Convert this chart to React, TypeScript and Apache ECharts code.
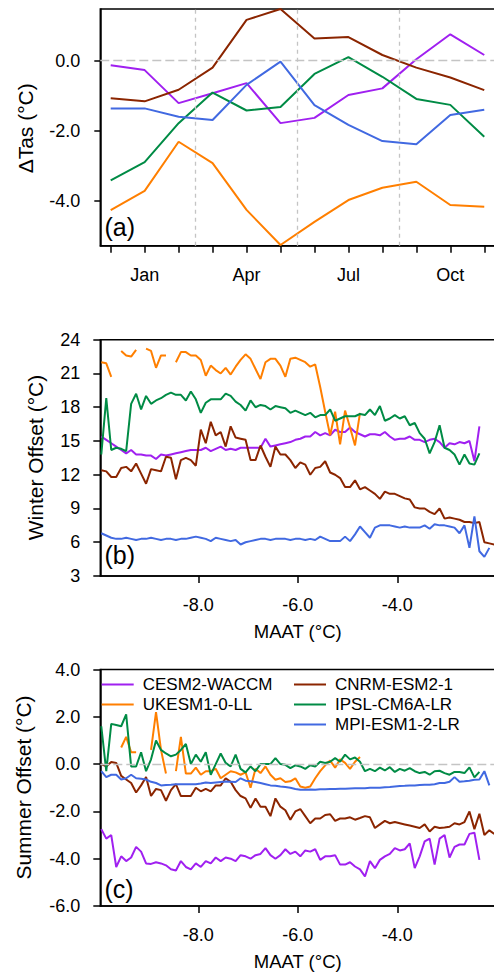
import React, { useEffect, useRef } from 'react';
import * as echarts from 'echarts';

const FONT = '"Liberation Sans", Arial, Helvetica, sans-serif';

// ---------- Panel (a): monthly ΔTas ----------
const MONTHS = ['Dec', 'Jan', 'Feb', 'Mar', 'Apr', 'May', 'Jun', 'Jul', 'Aug', 'Sep', 'Oct', 'Nov'];
const MONTH_IDX = [0, 1, 2, 3, 4, 5, 6, 7, 8, 9, 10, 11];
const MONTH_LABEL_IDX = [1, 4, 7, 10];
const SEASON_BOUNDS = [2.5, 5.5, 8.5];
const TAS_TICKS = [-4, -2, 0];

const tasCESM = [-0.13, -0.27, -1.21, -0.93, -0.64, -1.78, -1.63, -0.98, -0.79, 0.04, 0.75, 0.16];
const tasCNRM = [-1.07, -1.16, -0.83, -0.2, 1.16, 1.47, 0.63, 0.67, 0.16, -0.2, -0.48, -0.84];
const tasUKESM = [-4.26, -3.71, -2.31, -2.92, -4.25, -5.25, -4.59, -3.97, -3.62, -3.45, -4.11, -4.16];
const tasIPSL = [-3.41, -2.89, -1.78, -0.91, -1.42, -1.32, -0.38, 0.1, -0.46, -1.09, -1.26, -2.17];
const tasMPI = [-1.36, -1.36, -1.6, -1.69, -0.69, -0.03, -1.27, -1.83, -2.29, -2.38, -1.55, -1.4];

// ---------- Panels (b), (c): offsets vs MAAT bins ----------
const MAAT = [
  -9.95, -9.85, -9.75, -9.65, -9.55, -9.45, -9.35, -9.25, -9.15, -9.05,
  -8.95, -8.85, -8.75, -8.65, -8.55, -8.45, -8.35, -8.25, -8.15, -8.05,
  -7.95, -7.85, -7.75, -7.65, -7.55, -7.45, -7.35, -7.25, -7.15, -7.05,
  -6.95, -6.85, -6.75, -6.65, -6.55, -6.45, -6.35, -6.25, -6.15, -6.05,
  -5.95, -5.85, -5.75, -5.65, -5.55, -5.45, -5.35, -5.25, -5.15, -5.05,
  -4.95, -4.85, -4.75, -4.65, -4.55, -4.45, -4.35, -4.25, -4.15, -4.05,
  -3.95, -3.85, -3.75, -3.65, -3.55, -3.45, -3.35, -3.25, -3.15, -3.05,
  -2.95, -2.85, -2.75, -2.65, -2.55, -2.45, -2.35, -2.25, -2.15, -2.05,
];
const MAAT_TICKS = [-8, -6, -4];

const winterCESM = [
  15.4, 15.1, 14.8, 14.5, 14.2, 13.9, 14.2, 13.8, 13.8, 13.7,
  13.7, 13.4, 13.8, 13.7, 13.8, 13.9, 14.0, 14.1, 14.2, 14.2,
  14.2, 14.4, 14.1, 14.3, 14.5, 14.2, 14.3, 14.2, 14.4, 14.4,
  14.4, 14.4, 14.4, 15.2, 14.5, 14.6, 14.7, 14.8, 14.9, 15.1,
  15.2, 15.4, 15.4, 15.8, 15.5, 15.7, 15.5, 16.0, 15.8, 15.8,
  16.2, 15.8, 15.6, 15.4, 15.6, 15.6, 15.5, 15.8, 15.4, 15.1,
  15.2, 15.2, 15.4, 15.1, 15.1, 14.9, 15.1, 15.2, 14.9, 14.4,
  14.8, 14.7, 14.9, 14.8, 15.0, 13.2, 16.3, null, null, null,
];
const winterCNRM = [
  12.4, 12.3, 11.8, 11.8, 12.6, 12.7, 12.3, 13.0, 12.1, 11.2,
  12.5, 12.4, 12.3, 13.6, 13.5, 11.6, 13.3, 13.5, 13.3, 12.8,
  16.0, 14.8, 16.7, 15.5, 15.8, 14.5, 16.3, 15.3, 15.2, 15.1,
  13.3, 13.3, 14.6, 13.6, 12.7, 14.5, 13.8, 13.8, 13.3, 12.6,
  13.1, 12.9, 12.0, 12.6, 12.7, 13.2, 12.2, 12.0, 11.7, 10.9,
  10.9, 11.5, 10.7, 10.9, 10.6, 10.3, 9.85, 10.5, 10.3, 10.3,
  10.1, 9.9, 9.8, 9.1, 9.0, 9.0, 8.7, 8.5, 9.0, 8.1,
  8.2, 8.1, 8.0, 7.8, 7.8, 7.7, 7.8, 6.0, 5.9, 5.8,
];
const winterUKESM = [
  22.0, 21.9, 20.7, null, 23.0, 22.6, 22.5, 23.1, null, 23.2,
  23.0, 21.5, 22.6, 22.6, null, 22.0, 22.9, 22.9, 22.6, 22.6,
  22.2, 20.8, 21.7, 21.3, 21.0, 21.5, 20.9, 21.6, 22.2, 22.7,
  22.3, 21.4, 20.5, 22.0, 22.3, 22.3, 21.7, 20.7, 22.3, 22.4,
  22.2, 22.0, 21.6, 21.8, 19.8, 17.6, 15.5, 17.6, 14.7, 17.7,
  16.2, 14.6, 17.5, null, null, null, null, null, null, null,
  null, null, null, null, null, null, null, null, null, null,
  null, null, null, null, null, null, null, null, null, null,
];
const winterIPSL = [
  13.8, 18.8, 14.2, 14.4, 14.3, 14.1, 18.3, 19.2, 17.8, 19.0,
  18.3, 18.6, 18.8, 19.1, 19.3, 19.1, 19.1, 18.6, 19.4, 18.7,
  17.5, 18.4, 18.7, 18.7, 18.7, 19.2, 19.0, 18.5, 18.2, 17.7,
  18.6, 18.0, 18.2, 18.1, 17.8, 18.1, 18.0, 17.9, 17.5, 17.7,
  17.5, 17.3, 17.5, 17.1, 17.3, 17.3, 17.8, 16.8, 17.0, 17.2,
  17.2, 17.2, 17.4, 17.3, 17.8, 17.3, 18.1, 16.8, 17.0, 17.3,
  17.0, 17.2, 16.4, 16.6, 15.7, 15.2, 13.9, 14.9, 16.4, 14.4,
  14.2, 13.8, 12.9, 13.8, 13.0, 12.9, 13.9, null, null, null,
];
const winterMPI = [
  6.8, 6.6, 6.4, 6.3, 6.3, 6.4, 6.3, 6.2, 6.3, 6.3,
  6.4, 6.3, 6.2, 6.3, 6.3, 6.2, 6.3, 6.3, 6.4, 6.5,
  6.4, 6.3, 6.1, 6.4, 6.3, 6.2, 6.1, 6.2, 5.8, 6.0,
  6.1, 6.2, 6.3, 6.3, 6.2, 6.3, 6.3, 6.3, 6.2, 6.3,
  6.3, 6.2, 6.3, 6.2, 6.5, 6.3, 6.1, 6.1, 6.1, 6.5,
  6.1, 6.7, 7.4, 6.9, 6.4, 7.3, 7.5, 7.5, 7.5, 7.4,
  7.3, 7.4, 7.3, 7.3, 7.3, 7.5, 7.2, 7.6, 7.5, 7.5,
  7.4, 7.3, 6.8, 7.5, 5.5, 8.3, 5.2, 4.7, 5.5, null,
];

const summerCESM = [
  -2.75, -3.15, -3.0, -4.35, -3.9, -4.1, -3.95, -3.5, -3.7, -4.2,
  -4.22, -4.15, -4.2, -4.28, -4.45, -4.5, -4.1, -4.35, -4.45, -4.2,
  -4.35, -4.1, -4.2, -3.95, -4.1, -3.95, -4.0, -4.1, -3.85, -3.9,
  -4.0, -3.85, -3.8, -3.55, -3.85, -4.0, -3.85, -3.6, -3.8, -3.7,
  -3.9, -3.65, -3.7, -3.6, -4.05, -3.9, -3.9, -3.85, -4.25, -4.25,
  -4.15, -4.33, -4.45, -4.75, -4.1, -4.4, -4.05, -3.9, -3.8, -3.55,
  -3.65, -3.6, -3.35, -4.4, -3.9, -3.27, -3.15, -4.25, -3.15, -3.0,
  -3.95, -3.5, -3.4, -3.4, -2.95, -2.9, -4.05, null, null, null,
];
const summerCNRM = [
  0.0, -0.1, 0.09, 0.05, -0.5, -0.65, -0.8, -1.2, -0.9, -0.55,
  -1.35, -1.05, -1.1, -1.55, -1.1, -0.85, -1.35, -1.35, -1.35, -1.0,
  -1.15, -1.05, -1.15, -0.9, -0.9, -0.6, -0.75, -1.1, -1.35, -1.45,
  -1.85, -1.45, -1.8, -1.8, -2.2, -1.45, -1.8, -1.95, -2.35, -2.0,
  -1.9, -2.2, -2.5, -2.3, -2.3, -2.15, -2.12, -2.4, -2.3, -2.3,
  -2.25, -2.35, -2.28, -2.2, -2.25, -2.7, -2.55, -2.4, -2.5, -2.45,
  -2.5, -2.55, -2.6, -2.65, -2.7, -2.55, -2.85, -2.65, -2.7, -2.68,
  -2.65, -2.5, -2.55, -2.45, -2.0, -2.75, -2.1, -3.0, -2.8, -2.95,
];
const summerUKESM = [
  null, null, null, null, 0.7, 1.15, 0.5, 0.5, null, null,
  0.6, 2.2, 0.6, -0.4, null, -0.3, 1.15, -0.4, -0.4, -0.15,
  -0.45, -0.3, -0.3, -0.2, -0.6, -0.45, -0.3, -0.35, -0.45, -0.35,
  -1.0, -0.2, -0.38, -0.1, -0.45, -0.66, -0.6, -0.76, -0.73, -0.6,
  -0.95, -1.0, -0.95, -0.6, -0.3, -0.05, 0.15, -0.15, 0.2, 0.05,
  -0.2, 0.1, 0.3, null, null, null, null, null, null, null,
  null, null, null, null, null, null, null, null, null, null,
  null, null, null, null, null, null, null, null, null, null,
];
const summerIPSL = [
  1.6, -0.3, 1.7, 1.65, 1.6, 2.1, -0.1, -0.1, 0.5, -0.3,
  0.2, 1.0, 0.6, 0.45, 0.33, 0.4, 0.6, 0.85, 0.0, 0.4,
  0.1, 0.5, -0.45, 0.0, 0.45, 0.05, -0.1, 0.4, -0.2, -0.35,
  -0.1, -0.3, 0.0, 0.0, 0.0, 0.25, 0.0, -0.03, -0.17, -0.05,
  -0.1, -0.2, -0.05, -0.1, 0.1, 0.05, 0.1, 0.25, 0.1, 0.4,
  0.2, 0.28, 0.1, -0.3, -0.2, -0.3, -0.15, -0.27, -0.13, -0.33,
  -0.2, -0.28, -0.17, -0.3, -0.38, -0.33, -0.45, -0.3, -0.28, -0.38,
  -0.45, -0.33, -0.33, -0.38, -0.14, -0.56, -0.33, null, null, null,
];
const summerMPI = [
  -0.3, -0.55, -0.45, -0.45, -0.65, -0.6, -0.45, -0.6, -0.62, -0.65,
  -0.75, -0.8, -0.9, -0.88, -0.87, -0.85, -0.85, -0.85, -0.85, -0.85,
  -0.82, -0.78, -0.8, -0.78, -0.76, -0.74, -0.75, -0.76, -0.6, -0.7,
  -0.73, -0.76, -0.8, -0.85, -0.9, -0.92, -0.95, -0.97, -1.0, -1.05,
  -1.08, -1.08, -1.07, -1.08, -1.06, -1.06, -1.05, -1.05, -1.04, -1.04,
  -1.03, -1.02, -1.02, -1.02, -1.0, -1.0, -1.0, -0.98, -0.97, -0.95,
  -0.93, -0.92, -0.9, -0.9, -0.88, -0.87, -0.87, -0.85, -0.8, -0.8,
  -0.75, -0.55, -0.75, -0.73, -0.7, -0.66, -0.65, -0.3, -0.9, null,
];

const MODELS = [
  { name: 'CESM2-WACCM', color: '#a020f0', tas: tasCESM, winter: winterCESM, summer: summerCESM },
  { name: 'CNRM-ESM2-1', color: '#8b2500', tas: tasCNRM, winter: winterCNRM, summer: summerCNRM },
  { name: 'UKESM1-0-LL', color: '#ff7f00', tas: tasUKESM, winter: winterUKESM, summer: summerUKESM },
  { name: 'IPSL-CM6A-LR', color: '#008b45', tas: tasIPSL, winter: winterIPSL, summer: summerIPSL },
  { name: 'MPI-ESM1-2-LR', color: '#4169e1', tas: tasMPI, winter: winterMPI, summer: summerMPI },
];

const LEGEND_LEFT = ['CESM2-WACCM', 'UKESM1-0-LL'];
const LEGEND_RIGHT = ['CNRM-ESM2-1', 'IPSL-CM6A-LR', 'MPI-ESM1-2-LR'];

function toPairs(xs: number[], ys: (number | null)[]) {
  return xs.map((x, i) => [x, ys[i] === null || ys[i] === undefined ? '-' : ys[i]]);
}

function buildOption() {
  const GL = 100.3;
  const GW = 404; // right frame edge falls outside the 494px page, as in the reference
  const axisLineStyle = { color: '#000', width: 1.5 };
  const tickLabel = { color: '#000', fontSize: 18, fontFamily: FONT };

  const grids = [
    { left: GL, top: 9, width: GW, height: 236.7 },
    { left: GL, top: 339.7, width: GW, height: 236.3 },
    { left: GL, top: 669.5, width: GW, height: 236.5 },
  ].map((g) => ({
    ...g, show: true, borderColor: '#000', borderWidth: 1.5, backgroundColor: 'transparent',
    containLabel: false, outerBoundsMode: 'none',
  }));

  const monthPx = 33.96;
  const aMin = -10.4 / monthPx;
  const aMax = aMin + GW / monthPx;
  const mPx = 49.75;
  const bMin = -9.97;
  const bMax = bMin + GW / mPx;

  const xAxis: any[] = [
    {
      type: 'value', gridIndex: 0, min: aMin, max: aMax,
      axisLine: { show: true, onZero: false, lineStyle: axisLineStyle },
      axisTick: { show: true, customValues: MONTH_IDX, length: 7, lineStyle: axisLineStyle },
      axisLabel: { ...tickLabel, customValues: MONTH_LABEL_IDX, margin: 20, formatter: (v: number) => MONTHS[Math.round(v)] },
      splitLine: { show: false },
    },
    ...[1, 2].map((gi) => ({
      type: 'value', gridIndex: gi, min: bMin, max: bMax,
      axisLine: { show: true, onZero: false, lineStyle: axisLineStyle },
      axisTick: { show: true, customValues: MAAT_TICKS, length: 7, lineStyle: axisLineStyle },
      axisLabel: { ...tickLabel, customValues: MAAT_TICKS, margin: 20, formatter: (v: number) => v.toFixed(1) },
      splitLine: { show: false },
    })),
  ];

  const yAxis: any[] = [
    {
      type: 'value', gridIndex: 0, min: -5.27, max: 1.47,
      axisLine: { show: true, onZero: false, lineStyle: axisLineStyle },
      axisTick: { show: true, customValues: TAS_TICKS, length: 6, lineStyle: axisLineStyle },
      axisLabel: { ...tickLabel, customValues: TAS_TICKS, margin: 20, formatter: (v: number) => v.toFixed(1) },
      splitLine: { show: false },
    },
    {
      type: 'value', gridIndex: 1, min: 3, max: 24, interval: 3,
      axisLine: { show: true, onZero: false, lineStyle: axisLineStyle },
      axisTick: { show: true, length: 7, lineStyle: axisLineStyle },
      axisLabel: { ...tickLabel, margin: 20, formatter: (v: number) => String(v) },
      splitLine: { show: false },
    },
    {
      type: 'value', gridIndex: 2, min: -6, max: 4, interval: 2,
      axisLine: { show: true, onZero: false, lineStyle: axisLineStyle },
      axisTick: { show: true, length: 7, lineStyle: axisLineStyle },
      axisLabel: { ...tickLabel, margin: 20, formatter: (v: number) => v.toFixed(1) },
      splitLine: { show: false },
    },
  ];

  const dashed = '#c4c4c4';
  const series: any[] = [];
  MODELS.forEach((m, mi) => {
    const base = {
      name: m.name, type: 'line', symbol: 'none', showSymbol: false, connectNulls: false,
      lineStyle: { color: m.color, width: 2 }, itemStyle: { color: m.color }, silent: true,
    };
    series.push({
      ...base, xAxisIndex: 0, yAxisIndex: 0,
      data: toPairs(MONTH_IDX, m.tas),
      markLine: mi === 0 ? {
        silent: true, symbol: ['none', 'none'], label: { show: false },
        lineStyle: { color: dashed, width: 1.3, type: [4, 4] },
        data: [
          ...SEASON_BOUNDS.map((x) => ({ xAxis: x })),
          { yAxis: 0, lineStyle: { color: dashed, width: 1.3, type: [9, 4] } },
        ],
      } : undefined,
    });
    series.push({ ...base, xAxisIndex: 1, yAxisIndex: 1, data: toPairs(MAAT, m.winter) });
    series.push({
      ...base, xAxisIndex: 2, yAxisIndex: 2, data: toPairs(MAAT, m.summer),
      markLine: mi === 0 ? {
        silent: true, symbol: ['none', 'none'], label: { show: false },
        lineStyle: { color: dashed, width: 1.3, type: [9, 4] },
        data: [{ yAxis: 0 }],
      } : undefined,
    });
  });

  const legendCommon = {
    orient: 'vertical', top: 675, icon: 'rect', itemWidth: 32, itemHeight: 2, itemGap: 1, padding: 0,
    selectedMode: false,
    textStyle: { color: '#000', fontSize: 17, fontFamily: FONT, lineHeight: 19, padding: [0, 0, 0, 4] },
  };
  const legend = [
    { ...legendCommon, left: 101.7, data: LEGEND_LEFT },
    { ...legendCommon, left: 294, data: LEGEND_RIGHT },
  ];

  const txt = (text: string, x: number, y: number, size: number, rot = 0, align = 'center') => ({
    type: 'text', x, y, rotation: rot, silent: true,
    style: { text, fill: '#000', fontSize: size, fontFamily: FONT, align, verticalAlign: 'middle' },
  });
  const graphic = [
    txt('(a)', 104.5, 227, 25, 0, 'left'),
    txt('(b)', 104.5, 555, 25, 0, 'left'),
    txt('(c)', 104.5, 889, 25, 0, 'left'),
    txt('ΔTas (°C)', 25.5, 128.3, 21, Math.PI / 2),
    txt('Winter Offset (°C)', 35, 457.5, 21, Math.PI / 2),
    txt('Summer Offset (°C)', 23.7, 787.5, 21, Math.PI / 2),
    txt('MAAT (°C)', 297.7, 631.7, 18.5),
    txt('MAAT (°C)', 297.7, 961.7, 18.5),
  ];

  return {
    animation: false,
    backgroundColor: '#fff',
    textStyle: { fontFamily: FONT },
    grid: grids,
    xAxis,
    yAxis,
    legend,
    series,
    graphic,
  };
}

export default function App() {
  const ref = useRef<HTMLDivElement>(null);
  useEffect(() => {
    if (!ref.current) return;
    const chart = echarts.init(ref.current, null, { renderer: 'svg' });
    chart.setOption(buildOption() as any);
    return () => chart.dispose();
  }, []);
  return <div ref={ref} style={{ position: 'absolute', left: 0, top: 0, width: 494, height: 976 }} />;
}
